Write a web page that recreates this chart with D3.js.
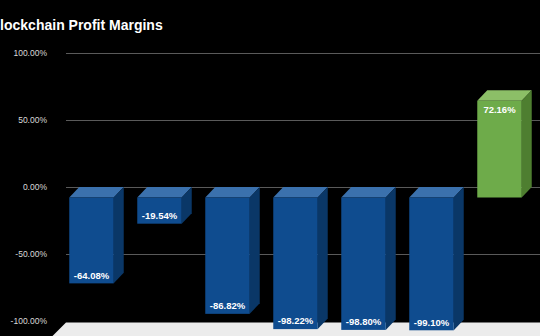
<!DOCTYPE html>
<html><head><meta charset="utf-8">
<script src="https://cdn.jsdelivr.net/npm/d3@7"></script>
<style>html,body{margin:0;padding:0;background:#000;overflow:hidden}</style>
</head><body>
<svg id="c" width="540" height="336"></svg>
<script>
const categories = ["Company A","Company B","Company C","Company D","Company E","Company F","Company G"];
const margins = [-64.08, -19.54, -86.82, -98.22, -98.80, -99.10, 72.16];
const tickValues = [-100, -50, 0, 50, 100];
const title = "Blockchain Profit Margins";

const svg = d3.select("#c");
const W = 540, H = 336;
svg.append("rect").attr("width", W).attr("height", H).attr("fill", "#000");

const x = d3.scaleBand().domain(categories).range([57.5, 533.5]).paddingInner(0.346).paddingOuter(0.173);
const y = d3.scaleLinear().domain([-100, 100]).range([321, 53]);
const DX = 10, DY = 10.5; // 3D depth offset
const pct = v => (v < 0 ? "-" : "") + Math.abs(v).toFixed(2) + "%";

// title
svg.append("text").attr("x", -10).attr("y", 30).text(title)
  .attr("font-family", "Liberation Sans, Arial, sans-serif").attr("font-weight", "bold")
  .attr("font-size", 14).attr("fill", "#fff");

// gridlines (back wall)
svg.append("g").selectAll("line").data(tickValues.filter(v => v > -100)).join("line")
  .attr("x1", 66).attr("x2", W).attr("y1", d => Math.round(y(d)) + 0.5).attr("y2", d => Math.round(y(d)) + 0.5)
  .attr("stroke", "#5a5a5a").attr("stroke-width", 1);

// axis labels
const ax = svg.append("g").attr("transform", "translate(47,0)")
  .call(d3.axisLeft(y).tickValues(tickValues).tickSize(0).tickPadding(0).tickFormat(pct));
ax.select(".domain").remove();
ax.selectAll("text").attr("fill", "#d9d9d9").attr("font-size", 8.5)
  .attr("font-family", "Liberation Sans, Arial, sans-serif").attr("dy", "0.35em");

// floor
const yb = y(-100) + 1.5;
svg.append("polygon")
  .attr("points", [[66, yb], [W + 5, yb], [W + 5, H + 5], [66 - (H + 5 - yb), H + 5]].map(p => p.join(",")).join(" "))
  .attr("fill", "#ececec");

// bars
const pal = {
  neg: {front: "#0f4c8f", top: "#3b71ad", side: "#0a3767"},
  pos: {front: "#6eab4a", top: "#8cbf67", side: "#4e7e30"}
};
const g = svg.append("g");
categories.forEach((c, i) => {
  const v = margins[i];
  const col = v < 0 ? pal.neg : pal.pos;
  const x0 = x(c), x1 = x(c) + x.bandwidth();
  const yTopF = y(Math.max(0, v)) + DY, yBotF = y(Math.min(0, v)) + DY;
  g.append("polygon").attr("fill", col.top)
    .attr("points", [[x0, yTopF], [x1, yTopF], [x1 + DX, yTopF - DY], [x0 + DX, yTopF - DY]].map(p => p.join(",")).join(" "));
  g.append("polygon").attr("fill", col.side)
    .attr("points", [[x1, yTopF], [x1 + DX, yTopF - DY], [x1 + DX, yBotF - DY], [x1, yBotF]].map(p => p.join(",")).join(" "));
  g.append("rect").attr("x", x0).attr("y", yTopF).attr("width", x.bandwidth()).attr("height", yBotF - yTopF).attr("fill", col.front);
  g.append("text").attr("x", x0 + x.bandwidth() / 2)
    .attr("y", v < 0 ? yBotF - 8 : yTopF + 9)
    .attr("dy", "0.35em").attr("text-anchor", "middle")
    .attr("font-family", "Liberation Sans, Arial, sans-serif").attr("font-weight", "bold")
    .attr("font-size", 9.5).attr("fill", "#fff")
    .text(pct(v));
});
</script>
</body></html>
